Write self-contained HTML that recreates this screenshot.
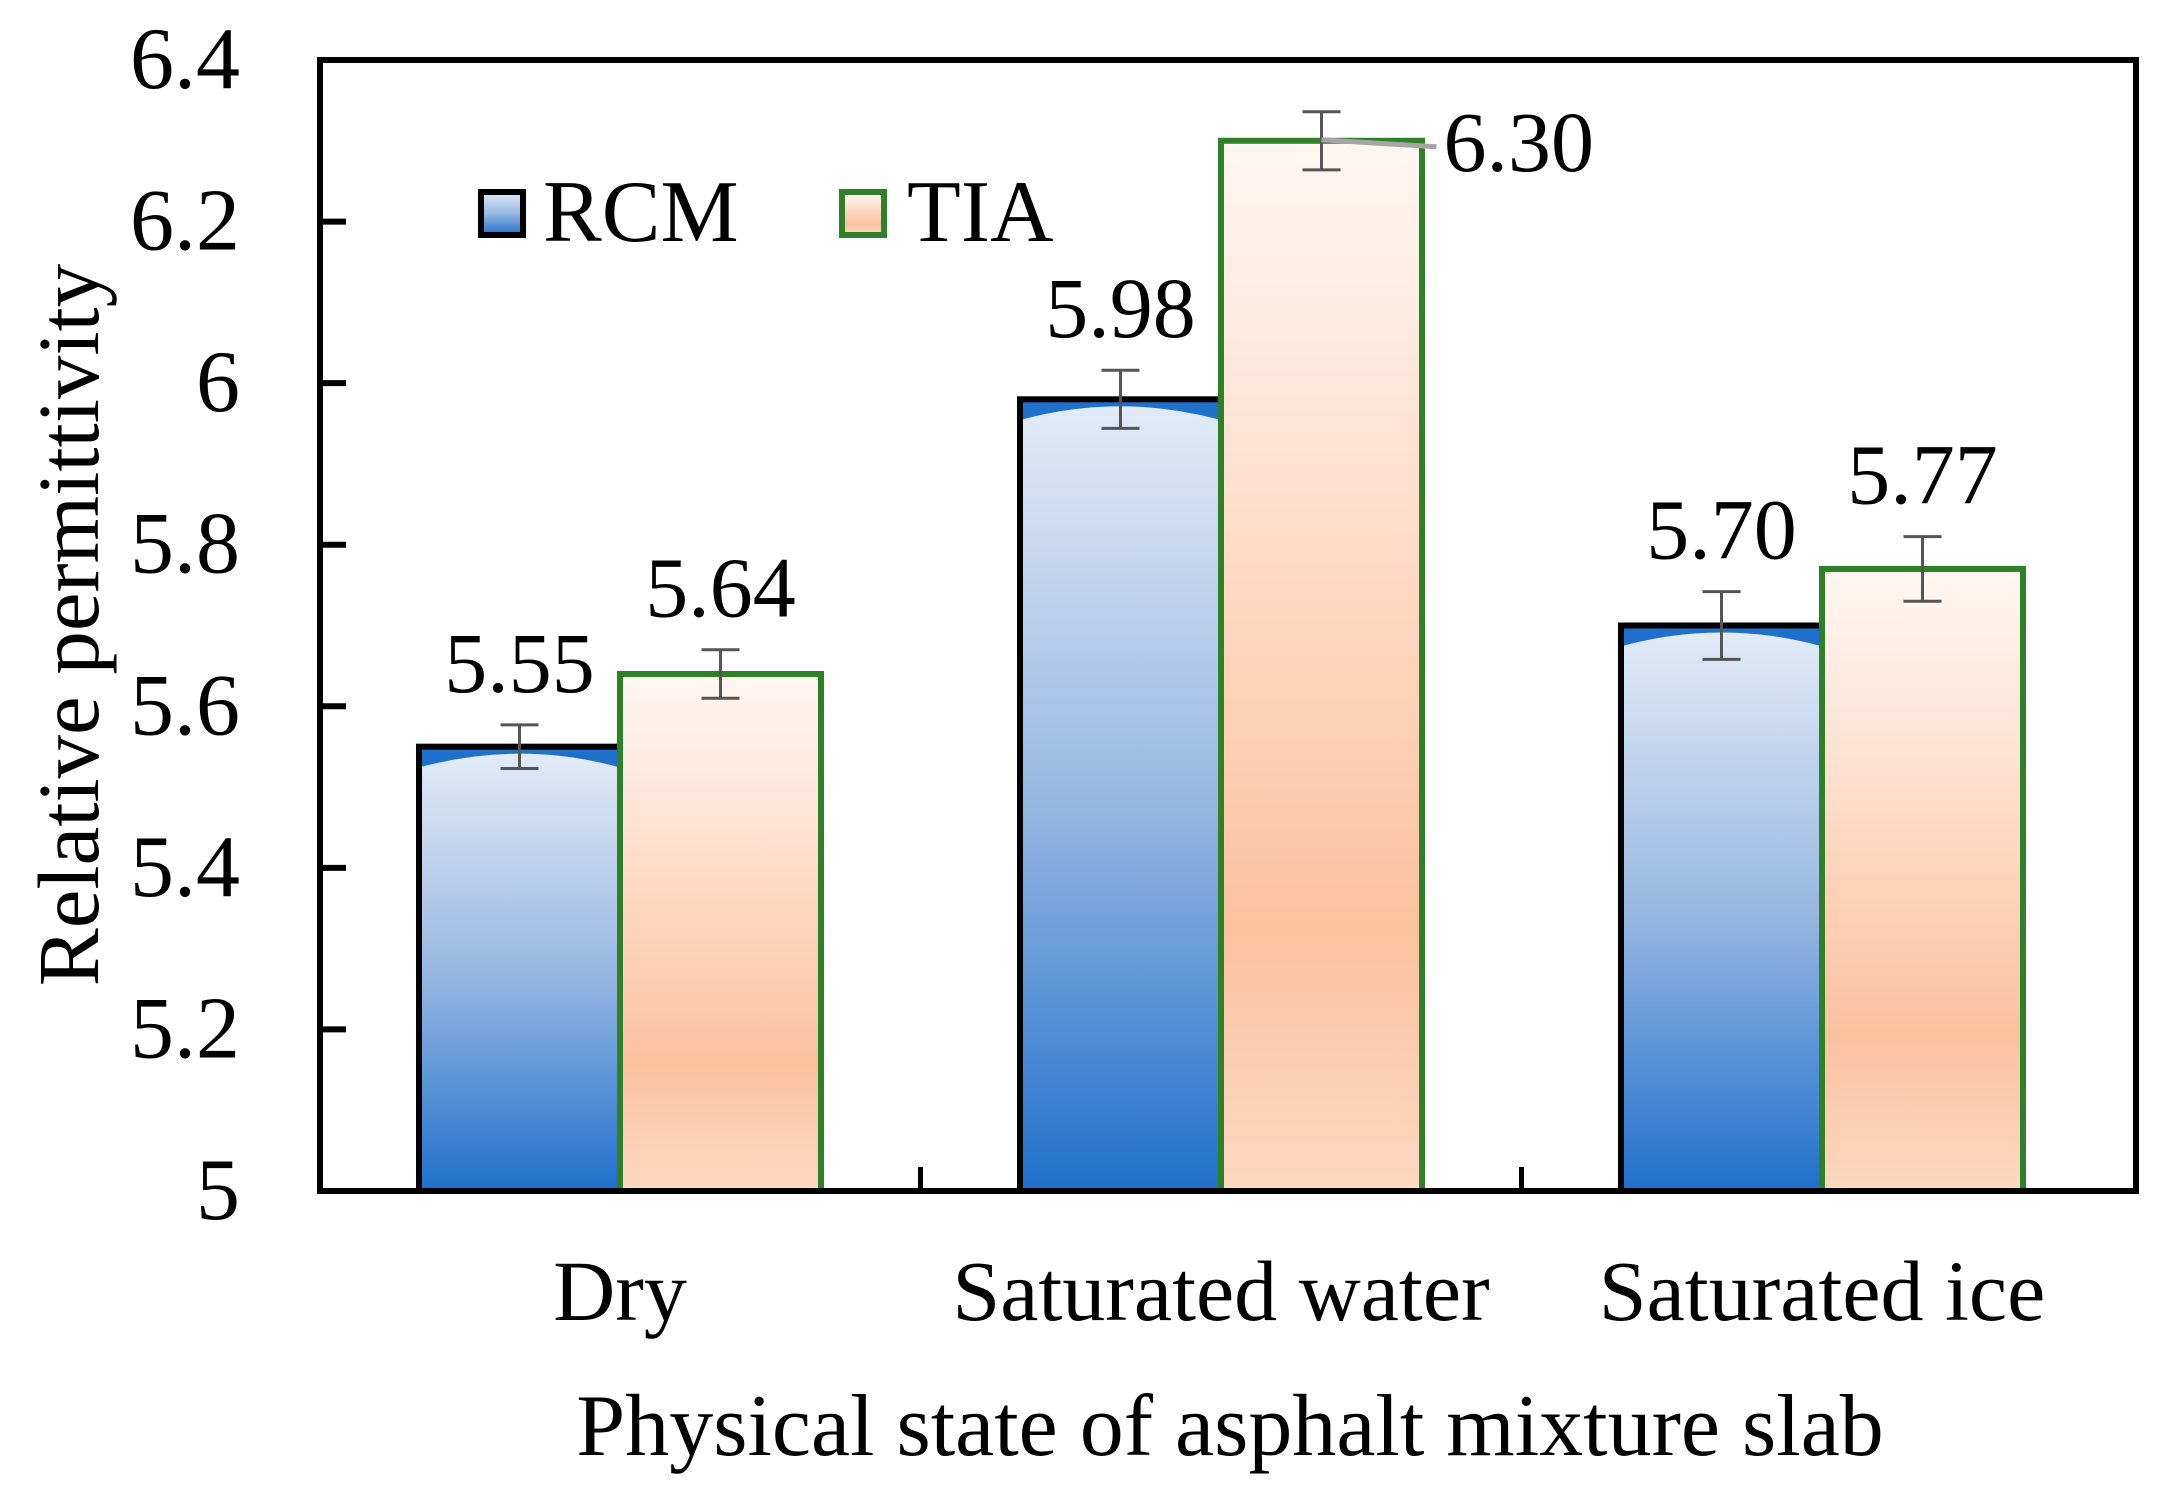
<!DOCTYPE html>
<html><head><meta charset="utf-8"><style>
html,body{margin:0;padding:0;background:#fff;}
svg{display:block;font-family:"Liberation Serif",serif;}
</style></head><body>
<svg id="chart" width="2162" height="1489" viewBox="0 0 2162 1489" xmlns="http://www.w3.org/2000/svg">
<defs>
<linearGradient id="gBlue" x1="0" y1="0" x2="0" y2="1">
<stop offset="0" stop-color="#e2ebf7"/><stop offset="0.5" stop-color="#98b8e2"/><stop offset="1" stop-color="#1f70cc"/>
</linearGradient>
<linearGradient id="gOrange" x1="0" y1="0" x2="0" y2="1">
<stop offset="0" stop-color="#fff7f3"/><stop offset="0.75" stop-color="#fcc29e"/><stop offset="1" stop-color="#fdd8c2"/>
</linearGradient>
</defs>
<g id="marks"></g>
<g id="axes"></g>
</svg>
<script>
const categories = ["Dry", "Saturated water", "Saturated ice"];
const rcmValues = [5.55, 5.98, 5.70];
const tiaValues = [5.64, 6.30, 5.77];
const rcmErrors = [0.027, 0.036, 0.042];
const tiaErrors = [0.03, 0.036, 0.04];
const rcmLabels = ["5.55", "5.98", "5.70"];
const tiaLabels = ["5.64", "6.30", "5.77"];
const yTicks = [5, 5.2, 5.4, 5.6, 5.8, 6, 6.2, 6.4];
const yTickLabels = ["5", "5.2", "5.4", "5.6", "5.8", "6", "6.2", "6.4"];

const NS = "http://www.w3.org/2000/svg";
const L = 320, R = 2136, T = 60, B = 1191;
const yMin = 5, yMax = 6.4;
function y(v){ return B - (v - yMin) / (yMax - yMin) * (B - T); }
const groupW = 601;
const firstCenter = 620;
function xc(i){ return firstCenter + groupW * i; }
const barW = 201;
function mk(tag, attrs, parent){
  const e = document.createElementNS(NS, tag);
  for (const k in attrs) e.setAttribute(k, attrs[k]);
  parent.appendChild(e); return e;
}
const marks = document.getElementById('marks');
const axes = document.getElementById('axes');

categories.forEach((c, i) => {
  const cx = xc(i);
  const x1 = cx - barW, yr = y(rcmValues[i]);
  const rb = mk('rect', {x: x1, y: yr, width: barW, height: B - yr, fill: '#1f70cc', stroke: '#000', 'stroke-width': 6}, marks);
  
  
  const rg = mk('path', {d: `M${x1+3},${yr+20} Q${cx - barW/2},${yr-6} ${cx-3},${yr+20} L${cx-3},${B} L${x1+3},${B} Z`, fill: 'url(#gBlue)'}, marks);
  
  
  const yt = y(tiaValues[i]);
  const tb = mk('rect', {x: cx, y: yt, width: barW, height: B - yt, fill: 'url(#gOrange)', stroke: '#2e8128', 'stroke-width': 6}, marks);
  
  
  [[cx - barW / 2, rcmValues[i], rcmErrors[i], 'rcm'], [cx + barW / 2, tiaValues[i], tiaErrors[i], 'tia']].forEach(([ex, v, e, s]) => {
    const g = mk('g', {stroke: '#555', 'stroke-width': 3}, marks);
    
    
    mk('line', {x1: ex, x2: ex, y1: y(v + e), y2: y(v - e)}, g);
    mk('line', {x1: ex - 19, x2: ex + 19, y1: y(v + e), y2: y(v + e)}, g);
    mk('line', {x1: ex - 19, x2: ex + 19, y1: y(v - e), y2: y(v - e)}, g);
  });
  const lr = mk('text', {x: cx - barW / 2, y: y(rcmValues[i] + rcmErrors[i]) - 33, 'font-size': 86, 'text-anchor': 'middle'}, marks);
  lr.textContent = rcmLabels[i];
  
  
  if (i === 1) {
    const ex = cx + barW / 2;
    const ln = mk('line', {x1: ex, y1: y(tiaValues[i]) - 1, x2: ex + 115, y2: y(tiaValues[i]) + 6, stroke: '#a6a6a6', 'stroke-width': 5}, marks);
    
    
    const lt = mk('text', {x: ex + 122, y: y(tiaValues[i]) + 30, 'font-size': 86}, marks);
    lt.textContent = tiaLabels[i];
    
    
  } else {
    const lt = mk('text', {x: cx + barW / 2, y: y(tiaValues[i] + tiaErrors[i]) - 33, 'font-size': 86, 'text-anchor': 'middle'}, marks);
    lt.textContent = tiaLabels[i];
    
    
  }
  const cl = mk('text', {x: cx, y: 1320, 'font-size': 86, 'text-anchor': 'middle'}, axes);
  cl.textContent = c;
  
  
});

const fr = mk('rect', {x: L, y: T, width: R - L, height: B - T, fill: 'none', stroke: '#000', 'stroke-width': 6}, axes);


for (let i = 1; i < categories.length; i++) {
  const sx = (xc(i - 1) + xc(i)) / 2;
  const t = mk('line', {x1: sx, x2: sx, y1: B, y2: B - 24, stroke: '#000', 'stroke-width': 5}, axes);
  
  
}
yTicks.forEach((v, i) => {
  const t = mk('line', {x1: L, x2: L + 26, y1: y(v), y2: y(v), stroke: '#000', 'stroke-width': 6}, axes);
  
  
  const tl = mk('text', {x: 240, y: y(v) + 28, 'font-size': 88, 'text-anchor': 'end'}, axes);
  tl.textContent = yTickLabels[i];
  
  
});
const ytl = mk('text', {x: 0, y: 0, 'font-size': 87, 'text-anchor': 'middle', transform: 'translate(98,625) rotate(-90)'}, axes);
ytl.textContent = 'Relative permittivity';


const xt = mk('text', {x: 1230, y: 1455, 'font-size': 88, 'text-anchor': 'middle'}, axes);
xt.textContent = 'Physical state of asphalt mixture slab';


const leg = mk('g', {}, axes);


const s1 = mk('rect', {x: 481, y: 192, width: 42, height: 43, fill: 'url(#gBlue)', stroke: '#000', 'stroke-width': 6}, leg);


const t1 = mk('text', {x: 543, y: 241, 'font-size': 88}, leg);
t1.textContent = 'RCM';


const s2 = mk('rect', {x: 842, y: 192, width: 42, height: 43, fill: 'url(#gOrange)', stroke: '#2e8128', 'stroke-width': 6}, leg);


const t2 = mk('text', {x: 907, y: 241, 'font-size': 88}, leg);
t2.textContent = 'TIA';


</script>
</body></html>
